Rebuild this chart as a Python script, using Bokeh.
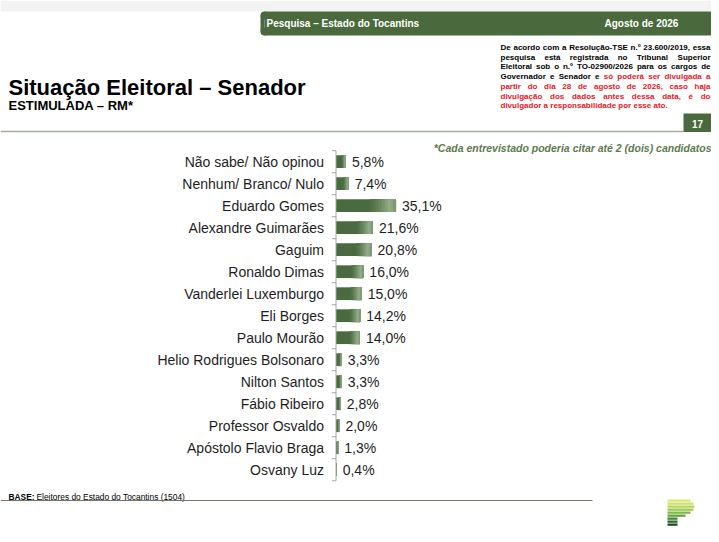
from bokeh.plotting import figure
from bokeh.models import Range1d, ColumnDataSource
from bokeh.core.properties import value
from bokeh.embed import file_html
from bokeh.resources import INLINE

# ---------------- data ----------------
candidates = [
    "Não sabe/ Não opinou", "Nenhum/ Branco/ Nulo", "Eduardo Gomes",
    "Alexandre Guimarães", "Gaguim", "Ronaldo Dimas", "Vanderlei Luxemburgo",
    "Eli Borges", "Paulo Mourão", "Helio Rodrigues Bolsonaro", "Nilton Santos",
    "Fábio Ribeiro", "Professor Osvaldo", "Apóstolo Flavio Braga", "Osvany Luz",
]
votes = [5.8, 7.4, 35.1, 21.6, 20.8, 16.0, 15.0, 14.2, 14.0, 3.3, 3.3, 2.8, 2.0, 1.3, 0.4]
value_labels = [f"{v:.1f}%".replace(".", ",") for v in votes]
rows = list(range(len(candidates)))

title = "Situação Eleitoral – Senador"
subtitle = "ESTIMULADA – RM*"
header_left = "Pesquisa – Estado do Tocantins"
header_right = "Agosto de 2026"
page_number = "17"
note = "*Cada entrevistado poderia citar até 2 (dois) candidatos"
base_bold = "BASE:"
base_text = "Eleitores do Estado do Tocantins (1504)"
# disclaimer lines: (black part, red part)
disclaimer = [
    ("De acordo com a Resolução-TSE n.º 23.600/2019, essa", ""),
    ("pesquisa está registrada no Tribunal Superior", ""),
    ("Eleitoral sob o n.º TO-02900/2026 para os cargos de", ""),
    ("Governador e Senador e", "só poderá ser divulgada a"),
    ("", "partir do dia 28 de agosto de 2026, caso haja"),
    ("", "divulgação dos dados antes dessa data, é do"),
    ("", "divulgador a responsabilidade por esse ato."),
]

# ---------------- layout constants (reference pixel space) ----------------
X0, X1, Y0, Y1 = 0, 711, 0, 526
AXIS_PX = 335.5
PX_PER_PCT = 1.71
ROW0 = 161.2
ROW_STEP = 22.0

GREEN = "#4a6a3d"
BAR = "#4a6b3f"
RED = "#e8141c"
FONT = "Liberation Sans"

p = figure(width=X1 - X0, height=Y1 - Y0,
           x_range=Range1d(X0, X1), y_range=Range1d(Y1, Y0),
           output_backend="svg", toolbar_location=None,
           min_border=0, x_axis_location=None, y_axis_location=None)
p.outline_line_color = None
p.grid.visible = False
p.background_fill_color = "white"
p.border_fill_color = "white"

p.extra_x_ranges["pct"] = Range1d((X0 - AXIS_PX) / PX_PER_PCT, (X1 - AXIS_PX) / PX_PER_PCT)
p.extra_y_ranges["row"] = Range1d((Y1 - ROW0) / ROW_STEP, (Y0 - ROW0) / ROW_STEP)


def txt(x, y, s, size, color="#000000", style="normal", align="left", baseline="alphabetic", font=FONT):
    p.text(x=[x], y=[y], text=[s], text_font=value(font), text_font_size=f"{size}px",
           text_color=color, text_font_style=style, text_align=align, text_baseline=baseline)


# approximate Arial/Liberation Sans Bold advance widths (per 1000 em)
_W = {" ": 278, "(": 333, ")": 333, ",": 278, "-": 333, ".": 278, "/": 278, ":": 333, "º": 365}
_W.update({d: 556 for d in "0123456789"})
_W.update(dict(zip("ABCDEFGHIJKLMNOPQRSTUVWXYZ",
                   [722, 722, 722, 722, 667, 611, 778, 722, 278, 556, 722, 611, 833, 722, 778,
                    667, 778, 722, 667, 611, 722, 667, 944, 667, 667, 611])))
_W.update(dict(zip("abcdefghijklmnopqrstuvwxyz",
                   [556, 611, 556, 611, 556, 333, 611, 611, 278, 278, 556, 278, 889, 611, 611,
                    611, 611, 389, 556, 333, 611, 556, 778, 556, 556, 500])))
_W.update({c: 556 for c in "áãâàéêç"})
_W.update({c: 611 for c in "óõôú"})
_W.update({"í": 278})


def word_w(w, size):
    return sum(_W.get(c, 556) for c in w) * size / 1000.0


# ---------------- header ----------------
p.quad(left=X0, right=X1, top=Y0, bottom=11, fill_color="#f3f3f3", line_color=None)
R = 4
p.quad(left=260 + R, right=X1, top=11, bottom=35, fill_color=GREEN, line_color=None)
p.quad(left=260, right=260 + R, top=11 + R, bottom=35 - R, fill_color=GREEN, line_color=None)
p.ellipse(x=[260 + R, 260 + R], y=[11 + R, 35 - R], width=2 * R, height=2 * R,
          fill_color=GREEN, line_color=None)
txt(266, 23, header_left, 10, "white", "bold", baseline="middle")
txt(604, 23, header_right, 10, "white", "bold", baseline="middle")

# disclaimer, justified between 500 and 710
DL, DR, DS = 500, 710, 8
for i, (black, red) in enumerate(disclaimer):
    words = [(w, "#000000") for w in black.split()] + [(w, RED) for w in red.split()]
    widths = [word_w(w, DS) for w, _ in words]
    last = i == len(disclaimer) - 1
    gap = word_w(" ", DS) if last else (DR - DL - sum(widths)) / (len(words) - 1)
    x = DL
    xs = {"#000000": [], RED: []}
    ts = {"#000000": [], RED: []}
    for (w, c), ww in zip(words, widths):
        xs[c].append(x)
        ts[c].append(w)
        x += ww + gap
    y = 47 + 9.7 * i
    for c in xs:
        if xs[c]:
            p.text(x=xs[c], y=[y] * len(xs[c]), text=ts[c], text_font=value(FONT),
                   text_font_size=f"{DS}px", text_font_style="bold", text_color=c,
                   text_align="left", text_baseline="alphabetic")

# title
txt(8, 87, title, 22, "#000000", "bold")
txt(8, 105, subtitle, 13, "#000000", "bold")

# divider and page number
p.segment(x0=[X0], x1=[683], y0=[131], y1=[131], line_color="#a3b09a", line_width=1.5)
p.quad(left=683, right=X1, top=113, bottom=131.5, fill_color=GREEN, line_color=None)
txt(697, 123, page_number, 10, "white", "bold", align="center", baseline="middle")

txt(X1, 147, note, 10.5, "#5d7a50", "bold italic", align="right")

# ---------------- chart ----------------
src = ColumnDataSource(dict(row=rows, cand=candidates, votes=votes, lab=value_labels))
p.hbar(y="row", left=0, right="votes", height=0.58, source=src,
       x_range_name="pct", y_range_name="row", fill_color=BAR, line_color=None)

# light sheen toward the right end of each bar (imitates the gradient fill);
# each step overlaps to the bar end so no seams appear
sheen = [(0.56, "#4f7045"), (0.61, "#56774c"), (0.66, "#5f7f55"), (0.71, "#6a8960"),
         (0.76, "#77946c"), (0.81, "#859f7a"), (0.86, "#92ab88"), (0.91, "#8ca683"),
         (0.95, "#7d9a73")]
for a, c in sheen:
    p.hbar(y=rows, left=[v * a for v in votes], right=votes, height=0.58,
           x_range_name="pct", y_range_name="row", fill_color=c, line_color=None)

p.text(x=0, y="row", text="cand", source=src, x_range_name="pct", y_range_name="row",
       x_offset=-12, text_align="right", text_baseline="middle",
       text_font=value(FONT), text_font_size="14px", text_color="#1e1e1e")
p.text(x="votes", y="row", text="lab", source=src, x_range_name="pct", y_range_name="row",
       x_offset=6, text_align="left", text_baseline="middle",
       text_font=value(FONT), text_font_size="14px", text_color="#1e1e1e")

bounds = [r - 0.5 for r in rows] + [rows[-1] + 0.5]
p.segment(x0=[AXIS_PX], x1=[AXIS_PX], y0=[bounds[0]], y1=[bounds[-1]],
          y_range_name="row", line_color="#a6a6a6", line_width=1)
p.segment(x0=[AXIS_PX - 4] * len(bounds), x1=[AXIS_PX] * len(bounds), y0=bounds, y1=bounds,
          y_range_name="row", line_color="#a6a6a6", line_width=1)

# ---------------- footer ----------------
txt(8, 496, base_bold, 8.4, "#000000", "bold")
txt(36, 496, base_text, 8.4, "#000000")
p.segment(x0=[X0], x1=[592], y0=[500], y1=[500], line_color="#6f7a66", line_width=1)

# logo
logo_right = [690, 693, 694, 693, 690, 685, 677, 677, 677]
logo_colors = ["#e0e57a", "#cfe06a", "#b7d65a", "#9ccb4e", "#80bb45",
               "#62a23c", "#468636", "#2f6a2d", "#1d4a22"]
tops = [499 + 3.0 * i for i in range(len(logo_right))]
p.quad(left=667, right=logo_right, top=tops, bottom=[t + 2.3 for t in tops],
       fill_color=logo_colors, line_color=None)

open("out.html", "w").write(file_html(p, INLINE))
